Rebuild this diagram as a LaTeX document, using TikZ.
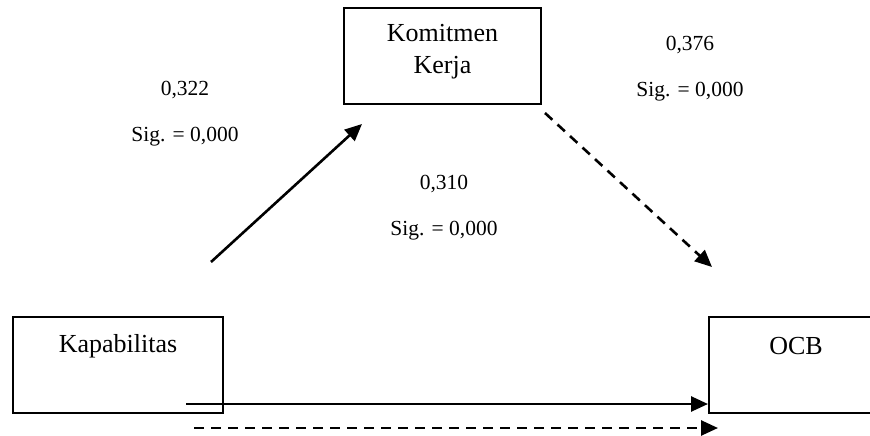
\documentclass[tikz,border=0pt]{standalone}
\usepackage{fontspec}
\setmainfont{Liberation Serif}
\usetikzlibrary{arrows.meta}
\begin{document}
\begin{tikzpicture}[x=1pt,y=-1pt,
  box/.style={draw, line width=2pt, rectangle, inner sep=0pt},
  boxtext/.style={font=\fontsize{26}{31}\selectfont, align=center, inner sep=0pt},
  coef/.style={font=\fontsize{21.5}{26}\selectfont, inner sep=0pt},
  link/.style={line width=2.6pt, -{Triangle[length=17pt,width=15pt]}},
  dlink/.style={link, dash pattern=on 10pt off 7pt}]
\useasboundingbox (0,0) rectangle (870,436);
\clip (0,0) rectangle (870,436);

% variable boxes
\node[box, minimum width=197pt, minimum height=96pt] (kom) at (442.5,56) {};
\node[boxtext] (komtext) at (442.5,52) {Komitmen\\[1pt]Kerja};
\node[box, minimum width=210pt, minimum height=96pt] (kap) at (118,365) {};
\node[boxtext] (kaptext) at (118,346) {Kapabilitas};
\node[box, minimum width=200pt, minimum height=96pt] (ocb) at (809,365) {};
\node[boxtext] (ocbtext) at (796,346) {OCB};

% path coefficients
\node[coef] (c1) at (185,90) {0,322};
\node[coef] (s1) at (185,137) {Sig. = 0,000};
\node[coef] (c2) at (444,184) {0,310};
\node[coef] (s2) at (444,231) {Sig. = 0,000};
\node[coef] (c3) at (690,45) {0,376};
\node[coef] (s3) at (690,92) {Sig. = 0,000};

% arrow end points
\coordinate (a1s) at (211,262);
\coordinate (a1e) at (362,124);
\coordinate (a2s) at (545,113);
\coordinate (a2e) at (712,267);
\coordinate (a3s) at (186,404);
\coordinate (a3e) at (ocb.west |- a3s);
\coordinate (a4s) at (194,428);
\coordinate (a4e) at (718,428);

\draw[link] (a1s) -- (a1e);
\draw[dlink] (a2s) -- (a2e);
\draw[link] (a3s) -- (a3e);
\draw[dlink] (a4s) -- (a4e);
\end{tikzpicture}
\end{document}
